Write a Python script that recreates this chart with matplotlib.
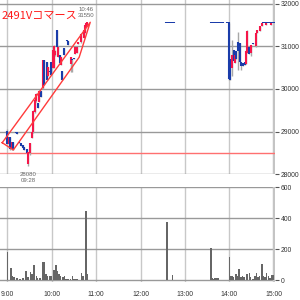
import matplotlib.pyplot as plt

# --- データ (9:00 からの経過分) ---
c_min = [0, 2, 4, 6, 8, 11, 13, 16, 19, 21, 23, 26, 28, 30, 33, 35, 37, 39, 41, 43, 45,
         48, 50, 53, 55, 57, 59, 61, 63, 65, 67, 69, 71, 72, 74, 77, 81, 82, 86, 88, 90,
         92, 94, 96, 100, 103, 105, 106, 107,
         215, 216, 217, 218, 221, 222, 223, 224, 225,
         275, 276, 277, 278, 279, 280, 281, 282, 283, 284, 285, 286, 287, 288, 289, 290, 291, 297, 298,
         300, 301, 304, 306, 308, 309, 312, 314, 316, 319, 321, 323, 324, 327, 329, 332, 336, 338, 341, 344,
         346, 347, 348, 349, 350, 351, 352, 353, 354, 355, 356, 357, 358, 359, 360]
c_open = [29000, 28720, 28860, 28600, 28740, 28980, 28970, 28750, 28720, 28670, 28630, 28590, 28260, 28520, 28870, 28990, 29480, 29730, 29650, 29700, 29950,
          30040, 30660, 30620, 30320, 30420, 30620, 30510, 30510, 30800, 31370, 30760, 30780, 30560, 30400, 30950, 31140, 31120, 30600, 30700, 30720,
          30830, 30840, 31060, 31100, 31210, 31320, 31450, 31500,
          31550, 31550, 31550, 31550, 31550, 31550, 31550, 31550, 31550,
          31550, 31550, 31550, 31550, 31550, 31550, 31550, 31550, 31550, 31550, 31550, 31550, 31550, 31550, 31550, 31550, 31550, 31550, 31550,
          31550, 30700, 30510, 30900, 30620, 30880, 31090, 31070, 30620, 30600, 30620, 30600, 30860, 30970, 30850, 31060, 31020, 31310, 31370, 31480,
          31550, 31550, 31550, 31500, 31550, 31550, 31550, 31550, 31550, 31550, 31500, 31550, 31550, 31550, 31550]
c_high = [29050, 28880, 28870, 28760, 28750, 28990, 28980, 28760, 28720, 28680, 28630, 28590, 28530, 28740, 29000, 29500, 29740, 29900, 29660, 29980, 29960,
          30680, 30680, 30640, 30520, 30440, 30630, 30900, 31020, 30900, 31380, 30980, 30800, 30740, 30410, 30960, 31150, 31130, 30740, 30710, 30720,
          30970, 30970, 31110, 31300, 31390, 31490, 31550, 31550,
          31550, 31550, 31550, 31550, 31550, 31550, 31550, 31550, 31550,
          31550, 31550, 31550, 31550, 31550, 31550, 31550, 31550, 31550, 31550, 31550, 31550, 31550, 31550, 31550, 31550, 31550, 31550, 31550,
          31550, 30700, 31150, 30910, 30800, 30890, 31330, 31080, 30630, 30610, 30630, 30900, 31370, 30980, 31030, 31070, 31300, 31380, 31480, 31550,
          31550, 31550, 31550, 31550, 31550, 31550, 31550, 31550, 31550, 31550, 31550, 31550, 31550, 31550, 31550]
c_low = [28700, 28680, 28580, 28560, 28570, 28960, 28940, 28730, 28660, 28620, 28580, 28490, 28200, 28450, 28860, 28960, 29440, 29700, 29550, 29690, 29800,
         30000, 30090, 30200, 30300, 30380, 30320, 30500, 30500, 30780, 30970, 30740, 30600, 30550, 30200, 30790, 31120, 31020, 30390, 30400, 30690,
         30820, 30830, 31050, 31080, 31200, 31300, 31440, 31480,
         31550, 31550, 31550, 31550, 31550, 31550, 31550, 31550, 31550,
         31550, 31550, 31550, 31550, 31550, 31550, 31550, 31550, 31550, 31550, 31550, 31550, 31550, 31550, 31550, 31550, 31550, 31550, 31550,
         30220, 30220, 30300, 30660, 30600, 30700, 30440, 30620, 30450, 30530, 30550, 30590, 30850, 30820, 30780, 31050, 30970, 31300, 31360, 31470,
         31550, 31550, 31550, 31500, 31550, 31550, 31550, 31550, 31550, 31550, 31500, 31550, 31550, 31550, 31550]
c_close = [28720, 28860, 28600, 28740, 28580, 28970, 28950, 28740, 28670, 28630, 28590, 28500, 28520, 28730, 28990, 29480, 29730, 29880, 29560, 29950, 29820,
           30660, 30100, 30220, 30510, 30400, 30330, 30890, 31000, 30880, 30980, 30970, 30620, 30730, 30210, 30800, 31130, 31030, 30730, 30690, 30700,
           30960, 30960, 31100, 31280, 31380, 31480, 31540, 31550,
           31550, 31550, 31550, 31550, 31550, 31550, 31550, 31550, 31550,
           31550, 31550, 31550, 31550, 31550, 31550, 31550, 31550, 31550, 31550, 31550, 31550, 31550, 31550, 31550, 31550, 31550, 31550, 31550,
           30250, 30230, 30790, 30670, 30780, 30710, 30900, 30630, 30550, 30540, 30560, 30880, 31350, 30830, 31020, 31060, 31290, 31370, 31470, 31540,
           31550, 31550, 31550, 31550, 31550, 31550, 31550, 31550, 31550, 31550, 31550, 31550, 31550, 31550, 31550]

v_min = [0, 5, 7, 9, 12, 14, 17, 21, 25, 28, 31, 33, 36, 39, 41, 44, 48, 50, 52, 54, 57, 59, 62, 63, 66, 67,
         70, 72, 75, 77, 79, 82, 85, 88, 90, 93, 95, 100, 102, 106, 108,
         216, 223, 275, 277, 279, 281, 283, 285,
         300, 302, 304, 306, 309, 311, 313, 316, 318, 320, 323, 324, 327, 329, 332, 335, 337, 339, 341, 344,
         346, 348, 350, 353, 355, 357, 359]
v_vol = [185, 81, 28, 22, 15, 12, 10, 18, 60, 20, 52, 40, 99, 30, 15, 15, 120, 118, 40, 25, 30, 30, 66, 68, 97, 60,
         40, 30, 20, 25, 10, 10, 10, 25, 10, 10, 8, 47, 30, 449, 40,
         378, 34, 206, 15, 10, 12, 15, 12,
         152, 30, 25, 20, 40, 25, 73, 20, 25, 20, 35, 40, 45, 20, 10, 30, 50, 20, 30, 105,
         25, 20, 45, 30, 15, 35, 35]

prev_close = 28510
chan_min = [-7, 8, 97, 112, -7]
chan_px = [28740, 28570, 30740, 31560, 28740]

hours = [0, 60, 120, 180, 240, 300, 360]
hour_labels = ['9:00', '10:00', '11:00', '12:00', '13:00', '14:00', '15:00']
px_ticks = [28000, 29000, 30000, 31000, 32000]
vol_ticks = [0, 200, 400, 600]

RED = '#f5174a'
BLUE = '#1a3caa'
LAB = dict(family='Liberation Sans', size=4.9)

fig = plt.figure(figsize=(3, 3), dpi=100)
ax = fig.add_axes([0, 1 - 174.3 / 300, 275 / 300, 174.3 / 300])
axv = fig.add_axes([0, 1 - 282.2 / 300, 275 / 300, (282.2 - 187.3) / 300])

for a in (ax, axv):
    a.set_xlim(-10, 361.8)
    for s in a.spines.values():
        s.set_visible(False)
    a.set_xticks(hours)
    a.grid(axis='x', color='#c8c8c8', lw=1)
    a.axvline(360, color='#c4c4c4', lw=2.5, zorder=1)
    a.yaxis.tick_right()
    a.tick_params(axis='y', direction='out', length=3, width=0.8, color='#555555',
                  pad=1.2, labelcolor='#333333')
    a.set_axisbelow(True)

# 価格パネル
ax.set_ylim(28000, 32082)
ax.set_yticks(px_ticks)
ax.set_yticklabels([str(v) for v in px_ticks], **LAB)
ax.grid(axis='y', color='#999999', lw=1)
ax.tick_params(axis='x', length=0, labelbottom=False)
ax.axhline(prev_close, color='#ff7070', lw=1, zorder=2)

cols = [RED if c > o else BLUE for o, c in zip(c_open, c_close)]
ax.vlines(c_min, c_low, c_high, color='#a8a8a8', lw=1, zorder=3)
b_lo = [min(o, c) - 10 for o, c in zip(c_open, c_close)]
b_hi = [max(o, c) + 10 for o, c in zip(c_open, c_close)]
ax.vlines(c_min, b_lo, b_hi, color=cols, lw=1.5, zorder=4)

ax.plot(chan_min, chan_px, color='#ff3b3b', lw=1, zorder=5, clip_on=False)

ax.text(-7.3, 31720, '2491Vコマース', color='#ff1a1a', fontsize=8,
        family=['Noto Sans CJK JP', 'DejaVu Sans'], va='center', ha='left', zorder=6)

i_hi = c_high.index(max(c_high[:49]))
ax.annotate('10:46\n31550', (c_min[i_hi], c_high[i_hi]), xytext=(0, 5), textcoords='offset pixels',
            ha='center', va='bottom', family='Liberation Sans', size=4.3, color='#666666',
            linespacing=1.25, annotation_clip=False)
i_lo = c_low.index(min(c_low))
ax.annotate('28080\n09:28', (c_min[i_lo], c_low[i_lo]), xytext=(0, -6), textcoords='offset pixels',
            ha='center', va='top', family='Liberation Sans', size=4.3, color='#666666',
            linespacing=1.35, annotation_clip=False, zorder=7)

# 出来高パネル
axv.set_ylim(-12, 600)
axv.set_yticks(vol_ticks)
axv.set_yticklabels([str(v) for v in vol_ticks], **LAB)
axv.grid(axis='y', color='#999999', lw=1)
axv.bar(v_min, v_vol, width=2, color='#666666', zorder=3)
axv.set_xticklabels(hour_labels, **LAB)
axv.tick_params(axis='x', length=0, pad=6, labelcolor='#333333')

fig.savefig('out.png', dpi=100)
